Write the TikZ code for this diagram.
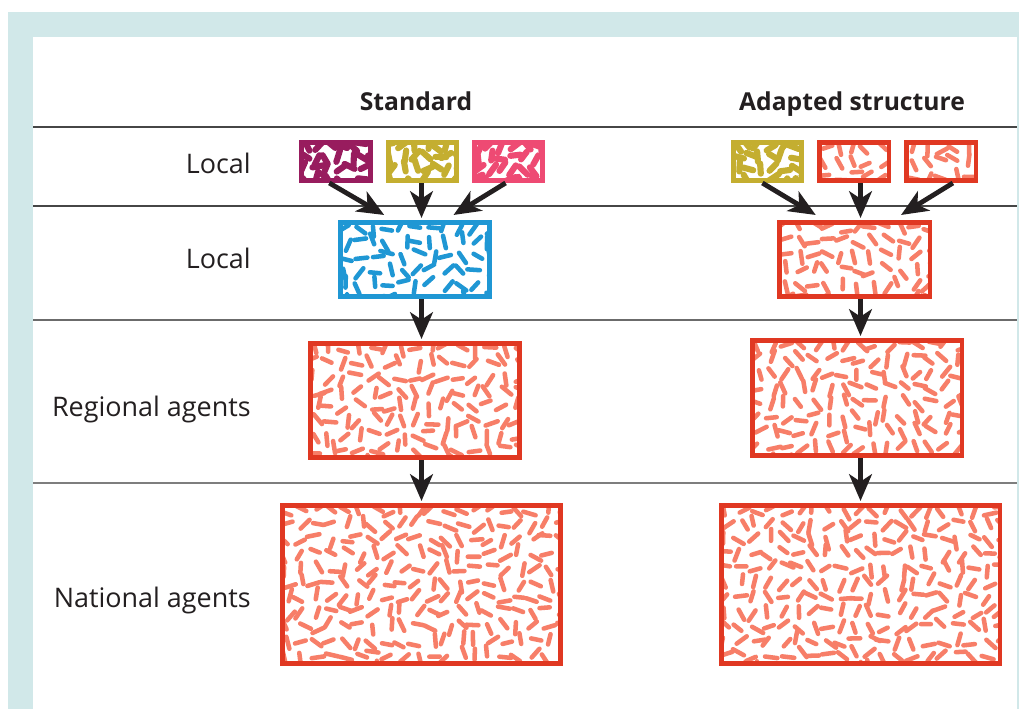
\documentclass[tikz,border=0pt]{standalone}
\usepackage{fontspec}
\setmainfont{Open Sans}
\usetikzlibrary{arrows.meta,calc}
\definecolor{frame}{RGB}{209,232,233}
\definecolor{cpurple}{RGB}{152,28,94}
\definecolor{colive}{RGB}{196,174,48}
\definecolor{cpink}{RGB}{238,74,115}
\definecolor{cblue}{RGB}{31,151,212}
\definecolor{cred}{RGB}{224,56,34}
\definecolor{csalmon}{RGB}{247,126,104}
\definecolor{ink}{RGB}{35,31,32}
\definecolor{rule}{RGB}{70,70,70}
\newcommand\patbox[9]{%
 \begin{scope}
  \clip (#2+3.5,#3+3.5) rectangle (#4-3.5,#5-3.5);
  \pgfmathtruncatemacro\nx{(#4-#2)/#9}
  \pgfmathtruncatemacro\ny{(#5-#3)/#9}
  \foreach \gx in {0,...,\nx}{\foreach \gy in {0,...,\ny}{
   \pgfmathsetmacro\cx{#2+(\gx+0.5)*#9+0.3*#9*rand}
   \pgfmathsetmacro\cy{#3+(\gy+0.5)*#9+0.3*#9*rand}
   \pgfmathsetmacro\an{180*rnd}
   \pgfmathsetmacro\ln{5.6+0.8*rand}
   \draw[line width=#8, line cap=round, draw=#7] (\cx,\cy) ++(\an:\ln) -- ++(\an+180:2*\ln);
  }}
 \end{scope}
 \node[draw=#6, line width=3.4pt, inner sep=0pt, minimum width={(#4-#2-4.5)*0.75pt}, minimum height={(#5-#3-4.5)*0.75pt}] (#1) at ({(#2+#4)/2},{(#3+#5)/2}) {};
}
\tikzset{
 arr/.style={line width=3.6pt, draw=ink, -{Stealth[length=20pt,width=17pt,inset=5.5pt]}},
 lbl/.style={anchor=base east, inner sep=0pt, text=ink, font=\fontsize{20.2}{24}\selectfont},
 hdr/.style={anchor=base, inner sep=0pt, text=ink, font=\fontsize{18.5}{22}\selectfont\bfseries},
 hline/.style={draw=rule, line width=0.8pt}
}
\begin{document}
\begin{tikzpicture}[x=0.75pt,y=-0.75pt]
\useasboundingbox (0,0) rectangle (1019,709);
\fill[white] (0,0) rectangle (1019,709);
\fill[frame] (8,12) rectangle (1019,709);
\fill[white] (33,37) rectangle (1017,709);
% rules
\coordinate (l1a) at (33,127); \coordinate (l1b) at (1017,127);
\coordinate (l2a) at (33,206); \coordinate (l2b) at (1017,206);
\coordinate (l3a) at (33,320); \coordinate (l3b) at (1017,320);
\coordinate (l4a) at (33,483); \coordinate (l4b) at (1017,483);
\draw[hline] (l1a) -- (l1b);
\draw[hline] (l2a) -- (l2b);
\draw[hline, draw=rule!80] (l3a) -- (l3b);
\draw[hline, draw=rule!70] (l4a) -- (l4b);
% headers and labels
\node[hdr] (hs) at (416,111) {Standard};
\node[hdr] (ha) at (852,111) {Adapted structure};
\node[lbl] (t1) at (251,174) {Local};
\node[lbl] (t2) at (251,268) {Local};
\node[lbl] (t3) at (251,416) {Regional agents};
\node[lbl] (t4) at (251,607) {National agents};
% standard column
\pgfmathsetseed{11}
\patbox{p1}{299}{140}{373}{183}{cpurple}{cpurple}{4.6pt}{11.5}
\pgfmathsetseed{23}
\patbox{o1}{386}{140}{459}{183}{colive}{colive}{4.6pt}{11.5}
\pgfmathsetseed{37}
\patbox{k1}{472}{140}{545}{183}{cpink}{cpink}{4.6pt}{11.5}
\pgfmathsetseed{41}
\patbox{b1}{338}{220}{492}{299}{cblue}{cblue}{3.4pt}{14.5}
\pgfmathsetseed{53}
\patbox{r1}{308}{341}{522}{460}{cred}{csalmon}{3.4pt}{14.5}
\pgfmathsetseed{67}
\patbox{n1}{280}{503}{563}{666}{cred}{csalmon}{3.4pt}{14.5}
% adapted column
\pgfmathsetseed{71}
\patbox{a1}{731}{140}{804}{183}{colive}{colive}{4.6pt}{11.5}
\pgfmathsetseed{83}
\patbox{a2}{817}{140}{891}{183}{cred}{csalmon}{3.4pt}{14.5}
\pgfmathsetseed{97}
\patbox{a3}{904}{140}{978}{183}{cred}{csalmon}{3.4pt}{14.5}
\pgfmathsetseed{101}
\patbox{m2}{777}{220}{932}{299}{cred}{csalmon}{3.4pt}{14.5}
\pgfmathsetseed{113}
\patbox{r2}{750}{338}{964}{458}{cred}{csalmon}{3.4pt}{14.5}
\pgfmathsetseed{127}
\patbox{n2}{719}{503}{1002}{666}{cred}{csalmon}{3.4pt}{14.5}
% arrows standard
\draw[arr] ($(p1.south west)!0.41!(p1.south east)$) -- ($(b1.north west)!0.3!(b1.north east)+(0,-5)$);
\draw[arr] (o1.south -| n1.north) -- ($(b1.north -| n1.north)+(0,-2)$);
\draw[arr] ($(k1.south west)!0.46!(k1.south east)$) -- ($(b1.north west)!0.75!(b1.north east)+(0,-5)$);
\draw[arr] (b1.south -| n1.north) -- ($(r1.north -| n1.north)+(0,-2)$);
\draw[arr] (r1.south -| n1.north) -- ($(n1.north)+(0,-2)$);
% arrows adapted
\draw[arr] ($(a1.south west)!0.43!(a1.south east)$) -- ($(m2.north west)!0.25!(m2.north east)+(0,-5)$);
\draw[arr] (a2.south -| n2.north) -- ($(m2.north -| n2.north)+(0,-2)$);
\draw[arr] ($(a3.south west)!0.66!(a3.south east)$) -- ($(m2.north west)!0.8!(m2.north east)+(0,-5)$);
\draw[arr] (m2.south -| n2.north) -- ($(r2.north -| n2.north)+(0,-2)$);
\draw[arr] (r2.south -| n2.north) -- ($(n2.north)+(0,-2)$);
\end{tikzpicture}
\end{document}
